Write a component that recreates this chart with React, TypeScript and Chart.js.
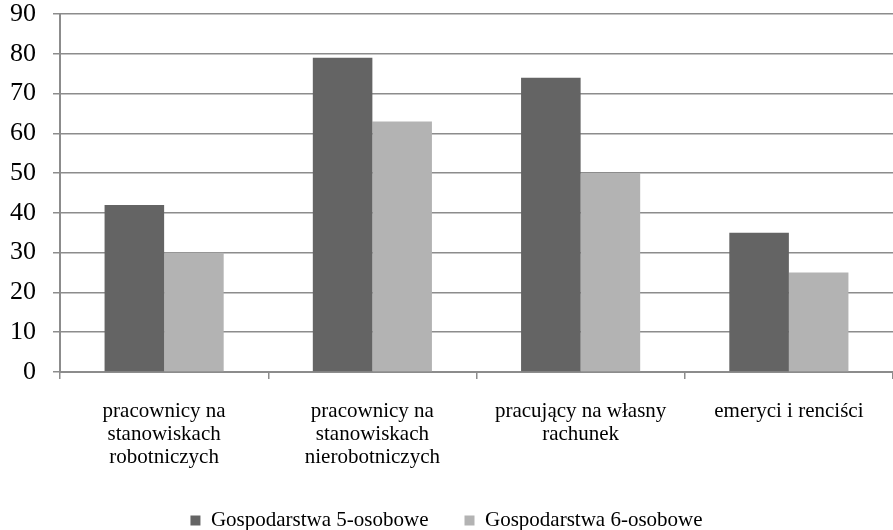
import React, { useEffect, useRef } from "react";
import { Chart, registerables } from "chart.js";

Chart.register(...registerables);

const categories: string[][] = [
  ["pracownicy na", "stanowiskach", "robotniczych"],
  ["pracownicy na", "stanowiskach", "nierobotniczych"],
  ["pracujący na własny", "rachunek"],
  ["emeryci i renciści"],
];
const series5 = [42, 79, 74, 35];
const series6 = [30, 63, 50, 25];
const seriesNames = ["Gospodarstwa 5-osobowe", "Gospodarstwa 6-osobowe"];
const yMin = 0;
const yMax = 90;
const yStep = 10;

const FONT = "'Liberation Serif', 'Times New Roman', serif";

export default function App() {
  const ref = useRef<HTMLCanvasElement | null>(null);
  useEffect(() => {
    document.body.style.margin = "0";
    if (!ref.current) return;
    const chart = new Chart(ref.current, {
      type: "bar",
      data: {
        labels: categories,
        datasets: [
          {
            label: seriesNames[0],
            data: series5,
            backgroundColor: "#646464",
            categoryPercentage: 0.572,
            barPercentage: 1,
          },
          {
            label: seriesNames[1],
            data: series6,
            backgroundColor: "#b3b3b3",
            categoryPercentage: 0.572,
            barPercentage: 1,
          },
        ],
      },
      options: {
        animation: false,
        responsive: false,
        maintainAspectRatio: false,
        layout: { padding: { top: 14, right: 0, left: 0, bottom: -11 } },
        plugins: {
          tooltip: { enabled: false },
          legend: {
            position: "bottom",
            labels: {
              boxWidth: 10,
              boxHeight: 10,
              padding: 36,
              color: "#000",
              font: { family: FONT, size: 21 },
            },
          },
        },
        scales: {
          x: {
            grid: {
              drawOnChartArea: false,
              drawTicks: true,
              tickLength: 7,
              color: "#8c8c8c",
              lineWidth: 1.5,
            },
            border: { color: "#8c8c8c", width: 2 },
            ticks: {
              color: "#000",
              padding: 21,
              maxRotation: 0,
              autoSkip: false,
              font: { family: FONT, size: 21, lineHeight: 1.1 },
            },
            afterFit: (scale: any) => {
              scale.height = 102;
              scale.paddingLeft = 0;
              scale.paddingRight = 0;
            },
          },
          y: {
            min: yMin,
            max: yMax,
            ticks: {
              stepSize: yStep,
              color: "#000",
              padding: 17,
              font: { family: FONT, size: 26 },
            },
            grid: {
              color: "#8c8c8c",
              lineWidth: 1.5,
              tickLength: 7,
            },
            border: { color: "#8c8c8c", width: 2 },
            afterFit: (scale: any) => {
              scale.width = 60;
              scale.paddingTop = 0;
              scale.paddingBottom = 0;
            },
          },
        },
      },
    });
    return () => chart.destroy();
  }, []);
  return (
    <div style={{ width: 893, height: 530 }}>
      <canvas ref={ref} width={893} height={530} />
    </div>
  );
}
